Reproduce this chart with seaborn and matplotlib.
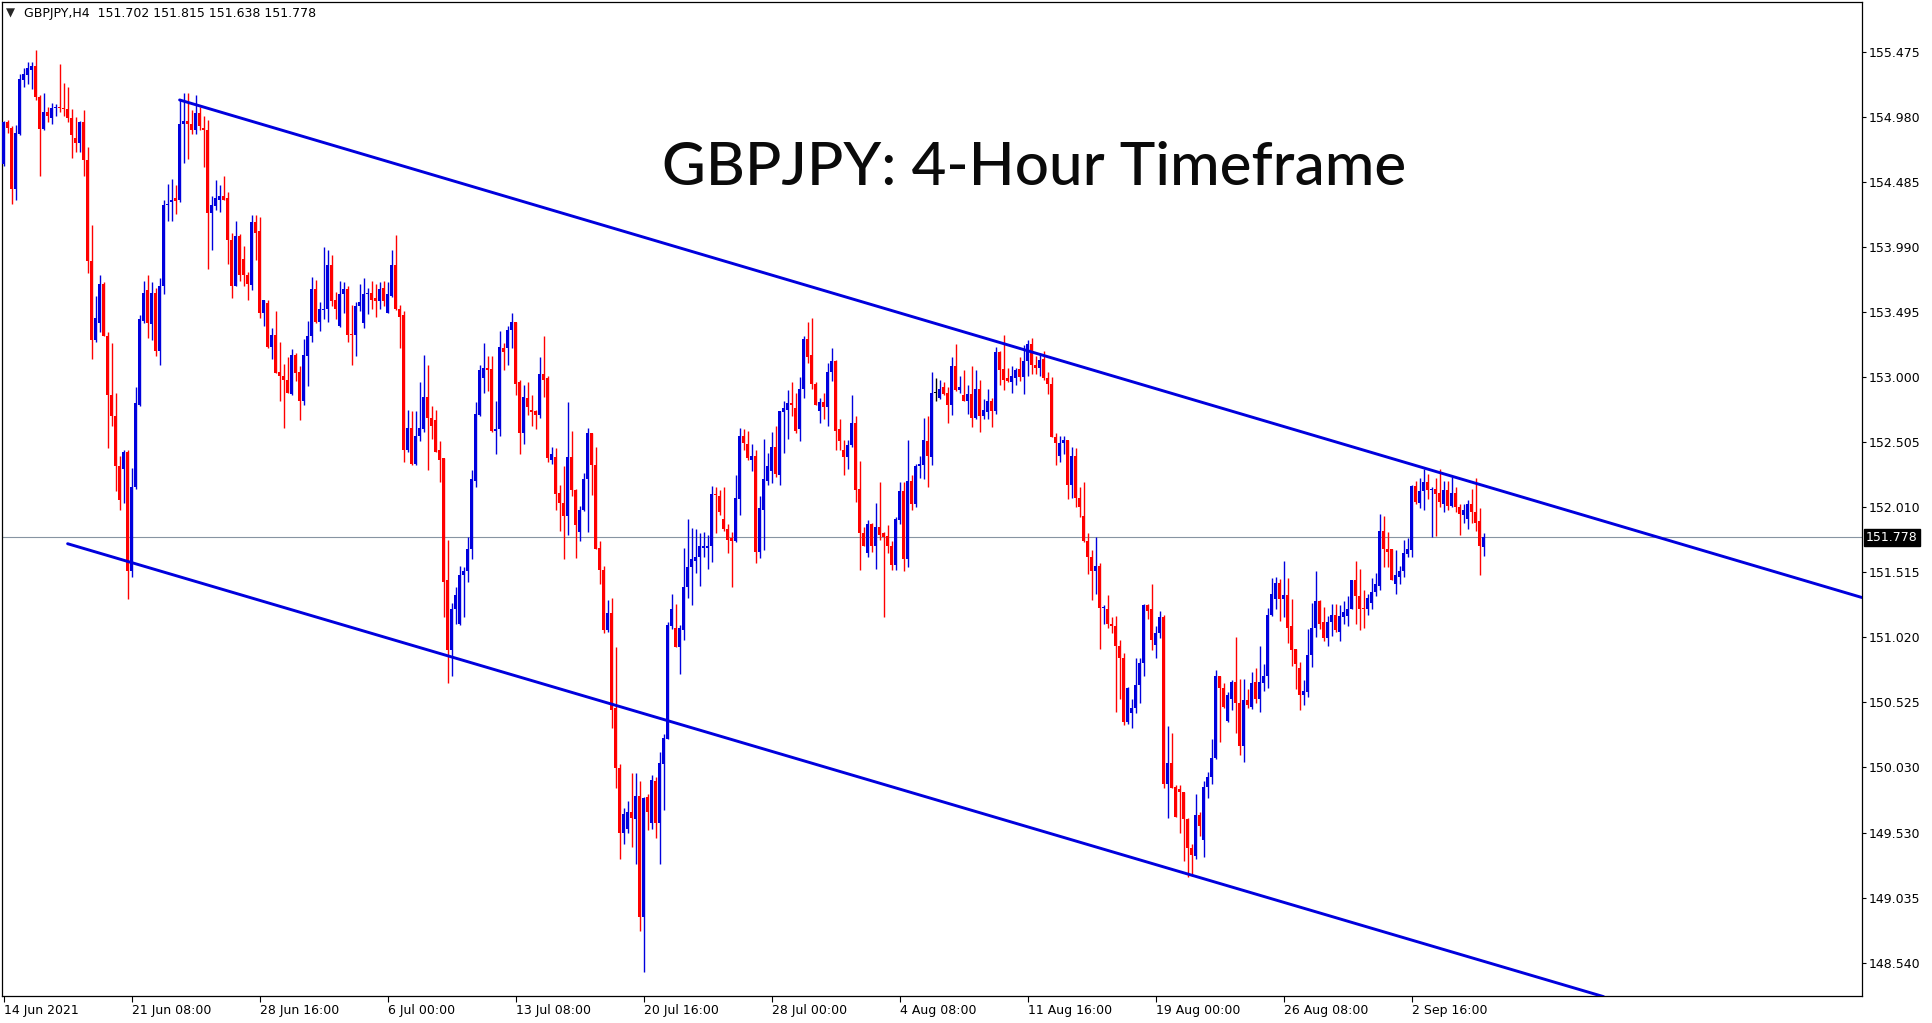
import numpy as np
import matplotlib
matplotlib.use("Agg")
import matplotlib.pyplot as plt
import matplotlib.transforms as mtransforms
import seaborn as sns

# GBPJPY H4 candles (bar 0 = 14 Jun 2021 00:00)
opens = [
    154.62, 154.94, 154.90, 154.43, 154.85, 155.26, 155.30, 155.34, 155.37, 155.13,
    154.89, 155.02, 154.97, 155.05, 155.06, 155.05, 155.04, 154.97, 154.82, 154.78,
    154.94, 154.65, 153.88, 153.28, 153.41, 153.71, 153.31, 152.86, 152.70, 152.32,
    152.30, 152.43, 151.52, 152.16, 152.79, 153.43, 153.66, 153.40, 153.64, 153.20,
    153.69, 154.31, 154.33, 154.36, 154.35, 154.93, 154.95, 154.93, 154.88, 155.01,
    154.90, 154.88, 154.25, 154.30, 154.35, 154.38, 154.36, 154.04, 153.69, 154.07,
    153.90, 153.78, 153.70, 154.18, 154.11, 153.49, 153.56, 153.23, 153.32, 153.04,
    153.01, 152.98, 152.87, 153.17, 153.04, 152.82, 153.16, 153.31, 153.67, 153.42,
    153.51, 153.52, 153.85, 153.59, 153.39, 153.63, 153.67, 153.33, 153.32, 153.54,
    153.41, 153.63, 153.64, 153.60, 153.58, 153.68, 153.49, 153.62, 153.85, 153.52,
    153.47, 152.44, 152.61, 152.34, 152.55, 152.60, 152.85, 152.69, 152.67, 152.44,
    152.38, 151.45, 150.92, 151.23, 151.12, 151.49, 151.52, 151.69, 152.21, 152.71,
    152.99, 153.07, 153.06, 152.59, 152.60, 153.22, 153.22, 153.36, 153.42, 152.96,
    152.57, 152.84, 152.75, 152.74, 152.71, 153.02, 152.99, 152.37, 152.39, 152.12,
    152.04, 151.94, 152.39, 152.14, 151.82, 151.99, 152.22, 152.57, 152.33, 151.70,
    151.53, 151.07, 151.20, 150.48, 150.02, 149.53, 149.56, 149.69, 149.63, 149.81,
    148.89, 149.80, 149.60, 149.92, 149.60, 150.05, 150.24, 151.10, 151.09, 150.94,
    151.07, 151.40, 151.55, 151.60, 151.63, 151.70, 151.70, 151.71, 152.11, 152.09,
    151.92, 151.84, 151.77, 151.75, 152.07, 152.55, 152.49, 152.37, 152.40, 151.67,
    151.99, 152.21, 152.28, 152.47, 152.25, 152.73, 152.75, 152.80, 152.76, 152.60,
    152.91, 153.29, 153.17, 152.95, 152.74, 152.81, 152.77, 153.04, 153.12, 152.60,
    152.44, 152.39, 152.48, 152.65, 152.15, 151.81, 151.66, 151.88, 151.71, 151.86,
    151.81, 151.79, 151.71, 151.57, 151.91, 152.13, 151.61, 152.21, 152.03, 152.32,
    152.33, 152.51, 152.39, 152.88, 152.84, 152.92, 152.88, 152.79, 153.08, 152.90,
    152.86, 152.82, 152.87, 152.69, 152.91, 152.70, 152.73, 152.82, 152.74, 153.19,
    153.06, 152.99, 152.96, 152.99, 153.06, 153.00, 153.12, 153.25, 153.09, 153.07,
    153.14, 152.99, 152.95, 152.54, 152.40, 152.50, 152.52, 152.18, 152.40, 152.08,
    151.94, 151.75, 151.63, 151.52, 151.56, 151.24, 151.23, 151.12, 151.10, 150.95,
    150.86, 150.37, 150.44, 150.48, 150.65, 150.82, 151.26, 151.23, 150.96, 151.05,
    151.17, 149.90, 150.06, 149.88, 149.86, 149.84, 149.63, 149.41, 149.35, 149.66,
    149.47, 149.88, 149.95, 150.10, 150.72, 150.63, 150.38, 150.55, 150.68, 150.52,
    150.19, 150.54, 150.49, 150.68, 150.55, 150.67, 150.72, 151.19, 151.31, 151.43,
    151.31, 151.34, 151.10, 150.93, 150.78, 150.58, 150.60, 150.88, 151.09, 151.29,
    151.13, 151.01, 151.13, 151.19, 151.06, 151.17, 151.18, 151.23, 151.45, 151.33,
    151.24, 151.23, 151.28, 151.36, 151.41, 151.83, 151.69, 151.69, 151.42, 151.48,
    151.52, 151.65, 151.68, 152.17, 152.04, 152.13, 152.20, 152.14, 152.15, 152.12,
    152.03, 152.14, 152.02, 152.12, 152.01, 151.95, 151.92, 152.03, 151.97, 151.90,
    151.702,
]
highs = [
    154.95, 154.96, 154.91, 154.92, 155.31, 155.35, 155.40, 155.40, 155.49, 155.15,
    155.16, 155.06, 155.09, 155.08, 155.38, 155.24, 155.21, 155.04, 154.98, 154.95,
    155.03, 154.75, 154.16, 153.62, 153.78, 153.72, 153.34, 153.26, 152.88, 152.40,
    152.44, 152.44, 152.31, 152.92, 153.47, 153.73, 153.78, 153.72, 153.68, 153.75,
    154.35, 154.47, 154.51, 154.46, 155.12, 155.16, 155.16, 155.03, 155.15, 155.06,
    154.99, 154.96, 154.38, 154.50, 154.46, 154.53, 154.41, 154.10, 154.19, 154.09,
    154.00, 153.80, 154.23, 154.23, 154.22, 153.59, 153.59, 153.37, 153.50, 153.27,
    153.10, 153.15, 153.21, 153.18, 153.08, 153.29, 153.43, 153.76, 153.74, 153.57,
    153.99, 153.97, 153.93, 153.65, 153.73, 153.72, 153.69, 153.55, 153.57, 153.71,
    153.75, 153.68, 153.73, 153.71, 153.72, 153.73, 153.72, 153.97, 154.08, 153.55,
    153.50, 152.75, 152.74, 152.74, 152.96, 153.17, 153.09, 152.78, 152.75, 152.51,
    152.38, 151.76, 151.28, 151.40, 151.56, 151.55, 151.78, 152.29, 152.81, 153.09,
    153.26, 153.16, 153.16, 152.82, 153.35, 153.26, 153.39, 153.49, 153.42, 152.98,
    152.94, 152.96, 152.86, 152.75, 153.15, 153.31, 153.01, 152.47, 152.46, 152.18,
    152.32, 152.81, 152.59, 152.15, 152.02, 152.27, 152.61, 152.57, 152.47, 151.75,
    151.56, 151.30, 151.32, 150.94, 150.05, 149.72, 149.77, 149.98, 149.98, 149.92,
    149.80, 149.82, 149.97, 149.95, 150.14, 150.28, 151.13, 151.35, 151.27, 151.11,
    151.70, 151.92, 151.85, 151.84, 151.81, 151.82, 151.80, 152.17, 152.16, 152.14,
    152.16, 151.88, 151.82, 152.25, 152.61, 152.60, 152.59, 152.49, 152.44, 152.09,
    152.53, 152.42, 152.58, 152.63, 152.74, 152.82, 152.90, 152.96, 152.88, 153.00,
    153.31, 153.42, 153.45, 152.96, 152.84, 152.88, 153.11, 153.22, 153.13, 152.68,
    152.52, 152.52, 152.86, 152.70, 152.36, 151.86, 151.91, 151.89, 152.04, 152.20,
    151.82, 151.87, 151.75, 151.93, 152.20, 152.20, 152.52, 152.25, 152.34, 152.40,
    152.69, 152.70, 153.04, 152.99, 152.98, 152.96, 152.92, 153.15, 153.25, 153.01,
    153.05, 152.94, 153.08, 153.05, 152.98, 152.83, 152.91, 152.84, 153.23, 153.20,
    153.32, 153.07, 153.08, 153.07, 153.15, 153.24, 153.28, 153.30, 153.16, 153.18,
    153.20, 153.04, 153.00, 152.57, 152.55, 152.55, 152.52, 152.47, 152.46, 152.16,
    152.20, 151.81, 151.68, 151.78, 151.58, 151.26, 151.34, 151.17, 151.18, 151.00,
    150.90, 150.64, 150.55, 150.86, 150.86, 151.27, 151.27, 151.42, 151.10, 151.22,
    151.19, 150.34, 150.29, 149.89, 149.89, 149.84, 149.64, 149.44, 149.82, 149.69,
    149.92, 149.99, 150.24, 150.77, 150.72, 150.67, 150.60, 150.69, 151.02, 150.70,
    150.70, 150.62, 150.75, 150.78, 150.95, 150.81, 151.24, 151.47, 151.48, 151.46,
    151.60, 151.47, 151.31, 150.93, 150.83, 150.69, 151.08, 151.28, 151.52, 151.30,
    151.25, 151.18, 151.27, 151.27, 151.26, 151.29, 151.33, 151.45, 151.60, 151.54,
    151.38, 151.35, 151.47, 151.51, 151.96, 151.94, 151.82, 151.69, 151.68, 151.56,
    151.76, 151.77, 152.18, 152.21, 152.23, 152.30, 152.26, 152.16, 152.23, 152.30,
    152.21, 152.21, 152.24, 152.16, 152.03, 152.03, 152.06, 152.15, 152.23, 152.00,
    151.815,
]
lows = [
    154.61, 154.86, 154.32, 154.35, 154.84, 155.21, 155.23, 155.19, 155.11, 154.53,
    154.88, 154.94, 154.93, 154.99, 155.02, 154.99, 154.94, 154.67, 154.71, 154.71,
    154.53, 153.79, 153.14, 153.27, 153.34, 153.31, 152.46, 152.63, 152.13, 151.99,
    152.04, 151.31, 151.48, 152.15, 152.78, 153.41, 153.30, 153.28, 153.16, 153.09,
    153.63, 154.19, 154.19, 154.24, 154.33, 154.63, 154.66, 154.85, 154.85, 154.88,
    154.60, 153.82, 153.97, 154.27, 154.26, 154.35, 153.86, 153.60, 153.69, 153.73,
    153.69, 153.59, 153.66, 153.89, 153.45, 153.39, 153.22, 153.14, 153.03, 152.82,
    152.61, 152.88, 152.86, 152.97, 152.67, 152.79, 152.93, 153.27, 153.41, 153.35,
    153.44, 153.42, 153.54, 153.44, 153.38, 153.49, 153.27, 153.09, 153.16, 153.50,
    153.37, 153.48, 153.52, 153.46, 153.52, 153.54, 153.49, 153.61, 153.51, 153.22,
    152.35, 152.43, 152.33, 152.33, 152.51, 152.58, 152.29, 152.53, 152.43, 152.20,
    151.17, 150.67, 150.72, 151.12, 151.11, 151.17, 151.44, 151.61, 152.16, 152.70,
    152.88, 152.89, 152.58, 152.41, 152.55, 153.05, 153.09, 153.22, 152.86, 152.41,
    152.49, 152.71, 152.63, 152.60, 152.69, 152.85, 152.35, 152.34, 151.99, 151.83,
    151.61, 151.80, 152.09, 151.62, 151.75, 151.98, 151.82, 152.10, 151.69, 151.42,
    151.05, 151.06, 150.33, 149.87, 149.33, 149.44, 149.53, 149.42, 149.29, 148.78,
    148.47, 149.55, 149.56, 149.49, 149.29, 149.70, 150.24, 151.08, 150.94, 150.74,
    151.00, 151.32, 151.26, 151.51, 151.41, 151.63, 151.54, 151.59, 151.81, 151.95,
    151.83, 151.66, 151.40, 151.74, 151.95, 152.44, 152.37, 152.28, 151.58, 151.62,
    151.68, 152.18, 152.19, 152.24, 152.18, 152.42, 152.53, 152.70, 152.57, 152.51,
    152.84, 153.11, 152.91, 152.79, 152.65, 152.68, 152.63, 152.97, 152.44, 152.44,
    152.25, 152.30, 152.47, 152.05, 151.53, 151.71, 151.63, 151.67, 151.54, 151.76,
    151.17, 151.66, 151.53, 151.53, 151.88, 151.52, 151.55, 151.99, 152.01, 152.23,
    152.22, 152.16, 152.33, 152.82, 152.83, 152.86, 152.65, 152.71, 152.89, 152.88,
    152.82, 152.72, 152.62, 152.68, 152.58, 152.68, 152.68, 152.62, 152.72, 152.94,
    152.90, 152.96, 152.88, 152.94, 152.97, 152.87, 153.01, 153.02, 153.02, 153.01,
    152.98, 152.87, 152.54, 152.33, 152.35, 152.41, 152.07, 152.08, 152.01, 151.93,
    151.74, 151.50, 151.30, 151.35, 150.93, 151.12, 151.09, 151.05, 150.45, 150.55,
    150.35, 150.36, 150.33, 150.44, 150.52, 150.72, 151.16, 150.92, 150.86, 151.01,
    149.87, 149.64, 149.87, 149.65, 149.53, 149.31, 149.19, 149.20, 149.33, 149.50,
    149.34, 149.79, 149.90, 150.09, 150.22, 150.48, 150.37, 150.46, 150.29, 150.12,
    150.07, 150.48, 150.47, 150.52, 150.45, 150.61, 150.63, 151.18, 151.23, 151.14,
    151.17, 150.97, 150.80, 150.62, 150.46, 150.50, 150.56, 150.79, 151.02, 151.08,
    150.99, 150.95, 151.03, 151.06, 150.99, 151.12, 151.10, 151.23, 151.12, 151.07,
    151.09, 151.19, 151.23, 151.33, 151.38, 151.55, 151.55, 151.45, 151.35, 151.42,
    151.48, 151.63, 151.63, 152.03, 152.00, 151.99, 152.07, 151.78, 151.79, 152.01,
    151.97, 151.99, 152.01, 151.97, 151.80, 151.89, 151.84, 151.89, 151.83, 151.49,
    151.638,
]
closes = [
    154.94, 154.90, 154.43, 154.86, 155.27, 155.31, 155.35, 155.37, 155.13, 154.89,
    155.02, 154.99, 155.05, 155.06, 155.05, 155.04, 154.97, 154.84, 154.78, 154.94,
    154.65, 153.88, 153.28, 153.45, 153.71, 153.31, 152.86, 152.70, 152.32, 152.06,
    152.43, 151.52, 152.16, 152.80, 153.44, 153.64, 153.41, 153.64, 153.20, 153.69,
    154.31, 154.32, 154.35, 154.34, 154.93, 154.95, 154.93, 154.88, 155.01, 154.91,
    154.88, 154.25, 154.31, 154.36, 154.38, 154.35, 154.04, 153.69, 154.07, 153.78,
    153.78, 153.71, 154.18, 154.10, 153.49, 153.59, 153.23, 153.32, 153.03, 153.01,
    152.98, 152.88, 153.17, 153.03, 152.82, 153.17, 153.31, 153.67, 153.42, 153.52,
    153.52, 153.85, 153.58, 153.52, 153.63, 153.67, 153.32, 153.32, 153.54, 153.57,
    153.63, 153.64, 153.59, 153.58, 153.67, 153.58, 153.63, 153.85, 153.52, 153.46,
    152.44, 152.61, 152.34, 152.55, 152.61, 152.85, 152.69, 152.63, 152.43, 152.37,
    151.44, 150.92, 151.23, 151.34, 151.49, 151.52, 151.69, 152.22, 152.72, 153.05,
    153.07, 153.05, 152.59, 152.60, 153.23, 153.19, 153.36, 153.42, 152.95, 152.57,
    152.85, 152.77, 152.73, 152.71, 153.02, 152.98, 152.38, 152.41, 152.11, 152.04,
    151.94, 152.39, 152.14, 151.87, 151.99, 152.22, 152.57, 152.33, 151.69, 151.53,
    151.07, 151.20, 150.46, 150.02, 149.53, 149.67, 149.69, 149.64, 149.81, 148.89,
    149.79, 149.69, 149.93, 149.60, 150.06, 150.25, 151.11, 151.23, 150.94, 151.09,
    151.40, 151.55, 151.61, 151.63, 151.71, 151.71, 151.71, 152.11, 152.10, 151.97,
    151.84, 151.76, 151.75, 152.08, 152.55, 152.50, 152.38, 152.40, 151.67, 152.00,
    152.22, 152.32, 152.47, 152.26, 152.74, 152.76, 152.80, 152.79, 152.59, 152.91,
    153.29, 153.15, 152.95, 152.79, 152.81, 152.77, 153.04, 153.12, 152.59, 152.51,
    152.39, 152.48, 152.65, 152.14, 151.81, 151.71, 151.88, 151.71, 151.86, 151.80,
    151.78, 151.71, 151.57, 151.92, 152.13, 151.61, 152.21, 152.03, 152.32, 152.34,
    152.52, 152.40, 152.88, 152.88, 152.91, 152.87, 152.79, 153.08, 152.90, 152.92,
    152.82, 152.87, 152.69, 152.91, 152.70, 152.75, 152.82, 152.74, 153.19, 153.05,
    152.98, 152.97, 153.01, 153.05, 153.00, 153.12, 153.25, 153.09, 153.07, 153.13,
    152.99, 152.95, 152.54, 152.50, 152.50, 152.52, 152.18, 152.40, 152.08, 152.01,
    151.75, 151.63, 151.52, 151.56, 151.24, 151.25, 151.12, 151.10, 150.95, 150.86,
    150.37, 150.63, 150.48, 150.65, 150.82, 151.26, 151.22, 151.00, 151.05, 151.17,
    149.90, 150.06, 149.87, 149.65, 149.84, 149.63, 149.41, 149.36, 149.66, 149.58,
    149.88, 149.95, 150.10, 150.72, 150.63, 150.49, 150.58, 150.68, 150.52, 150.19,
    150.54, 150.50, 150.67, 150.55, 150.68, 150.72, 151.19, 151.35, 151.43, 151.31,
    151.34, 151.09, 150.92, 150.81, 150.58, 150.61, 150.88, 151.09, 151.29, 151.12,
    151.01, 151.13, 151.19, 151.07, 151.18, 151.21, 151.23, 151.45, 151.33, 151.23,
    151.23, 151.32, 151.36, 151.42, 151.83, 151.69, 151.67, 151.45, 151.49, 151.52,
    151.66, 151.69, 152.17, 152.05, 152.13, 152.20, 152.14, 152.15, 152.11, 152.05,
    152.14, 152.02, 152.12, 152.01, 151.96, 151.99, 152.03, 151.97, 151.89, 151.71,
    151.778,
]

x_tick_bars = [0, 32, 64, 96, 128, 160, 192, 224, 256, 288, 320, 352]
x_tick_labels = ["14 Jun 2021", "21 Jun 08:00", "28 Jun 16:00", "6 Jul 00:00",
                 "13 Jul 08:00", "20 Jul 16:00", "28 Jul 00:00", "4 Aug 08:00",
                 "11 Aug 16:00", "19 Aug 00:00", "26 Aug 08:00", "2 Sep 16:00"]
y_ticks = [155.475, 154.980, 154.485, 153.990, 153.495, 153.000, 152.505, 152.010,
           151.515, 151.020, 150.525, 150.030, 149.530, 149.035, 148.540]
y_tick_labels = ["155.475", "154.980", "154.485", "153.990", "153.495", "153.000",
                 "152.505", "152.010", "151.515", "151.020", "150.525", "150.030",
                 "149.530", "149.035", "148.540"]

# channel trend lines (bar index, price)
upper_line_bars = [44, 464.6]
upper_line_prices = [155.11, 151.32]
lower_line_bars = [16, 400]
lower_line_prices = [151.73, 148.28]

sns.set_theme(style="ticks")
plt.rcParams["font.family"] = ["DejaVu Sans"]

BLUE = "#0000dd"
RED = "#ff0000"

fig = plt.figure(figsize=(19.33, 10.23), dpi=100)
ax = fig.add_axes([2 / 1933, 27 / 1023, 1860 / 1933, 994 / 1023])

o = np.array(opens); h = np.array(highs); l = np.array(lows); c = np.array(closes)
bars = np.arange(len(o))
colors = np.where(c > o, BLUE, np.where(c < o, RED, "#000000"))

ax.axhline(closes[-1], color="#8794a2", lw=0.8, zorder=0)
ax.vlines(bars, l, h, colors=colors, lw=1.0, zorder=2)
body = np.maximum(np.abs(c - o), 0.008)
ax.bar(bars, body, bottom=np.minimum(o, c), width=0.8, color=colors, linewidth=0, zorder=3)

sns.lineplot(x=upper_line_bars, y=upper_line_prices, ax=ax, color=BLUE, lw=2.1, zorder=4)
sns.lineplot(x=lower_line_bars, y=lower_line_prices, ax=ax, color=BLUE, lw=2.1, zorder=4)

ax.set_xlim(-0.4, 464.6)
ax.set_ylim(148.285, 155.856)
ax.set_xlabel(""); ax.set_ylabel("")

ax.yaxis.tick_right()
ax.set_yticks(y_ticks)
ax.set_yticklabels(y_tick_labels)
ax.set_xticks(x_tick_bars)
ax.set_xticklabels(x_tick_labels)
for lbl in ax.get_xticklabels():
    lbl.set_horizontalalignment("left")
ax.tick_params(axis="y", direction="out", length=3, width=0.8, pad=2,
               labelsize=9, colors="black")
ax.tick_params(axis="x", direction="out", length=4, width=0.8, pad=1.5,
               labelsize=9, colors="black")
for s in ax.spines.values():
    s.set_color("black")
    s.set_linewidth(0.9)

# current price marker on the price scale
trans = mtransforms.blended_transform_factory(ax.transAxes, ax.transData)
ax.text(1.0022, closes[-1], f"{closes[-1]:.3f}", transform=trans, color="white",
        fontsize=9, va="center", ha="left",
        bbox=dict(boxstyle="square,pad=0.18", fc="black", ec="black"))

# MT4 style header
fig.text(6 / 1933, 1 - 13 / 1023, "\u25bc", fontsize=8.5, va="center", ha="left")
fig.text(24 / 1933, 1 - 14 / 1023,
         f"GBPJPY,H4  {opens[-1]:.3f} {highs[-1]:.3f} {lows[-1]:.3f} {closes[-1]:.3f}",
         fontsize=9, va="center", ha="left", color="black")

fig.text(1034 / 1933, 1 - 185 / 1023, "GBPJPY: 4-Hour Timeframe", ha="center",
         va="baseline", fontsize=43.3, family=["Lato", "DejaVu Sans"],
         color="#0a0a0a", fontweight="medium")

fig.savefig("out.png", dpi=100)
